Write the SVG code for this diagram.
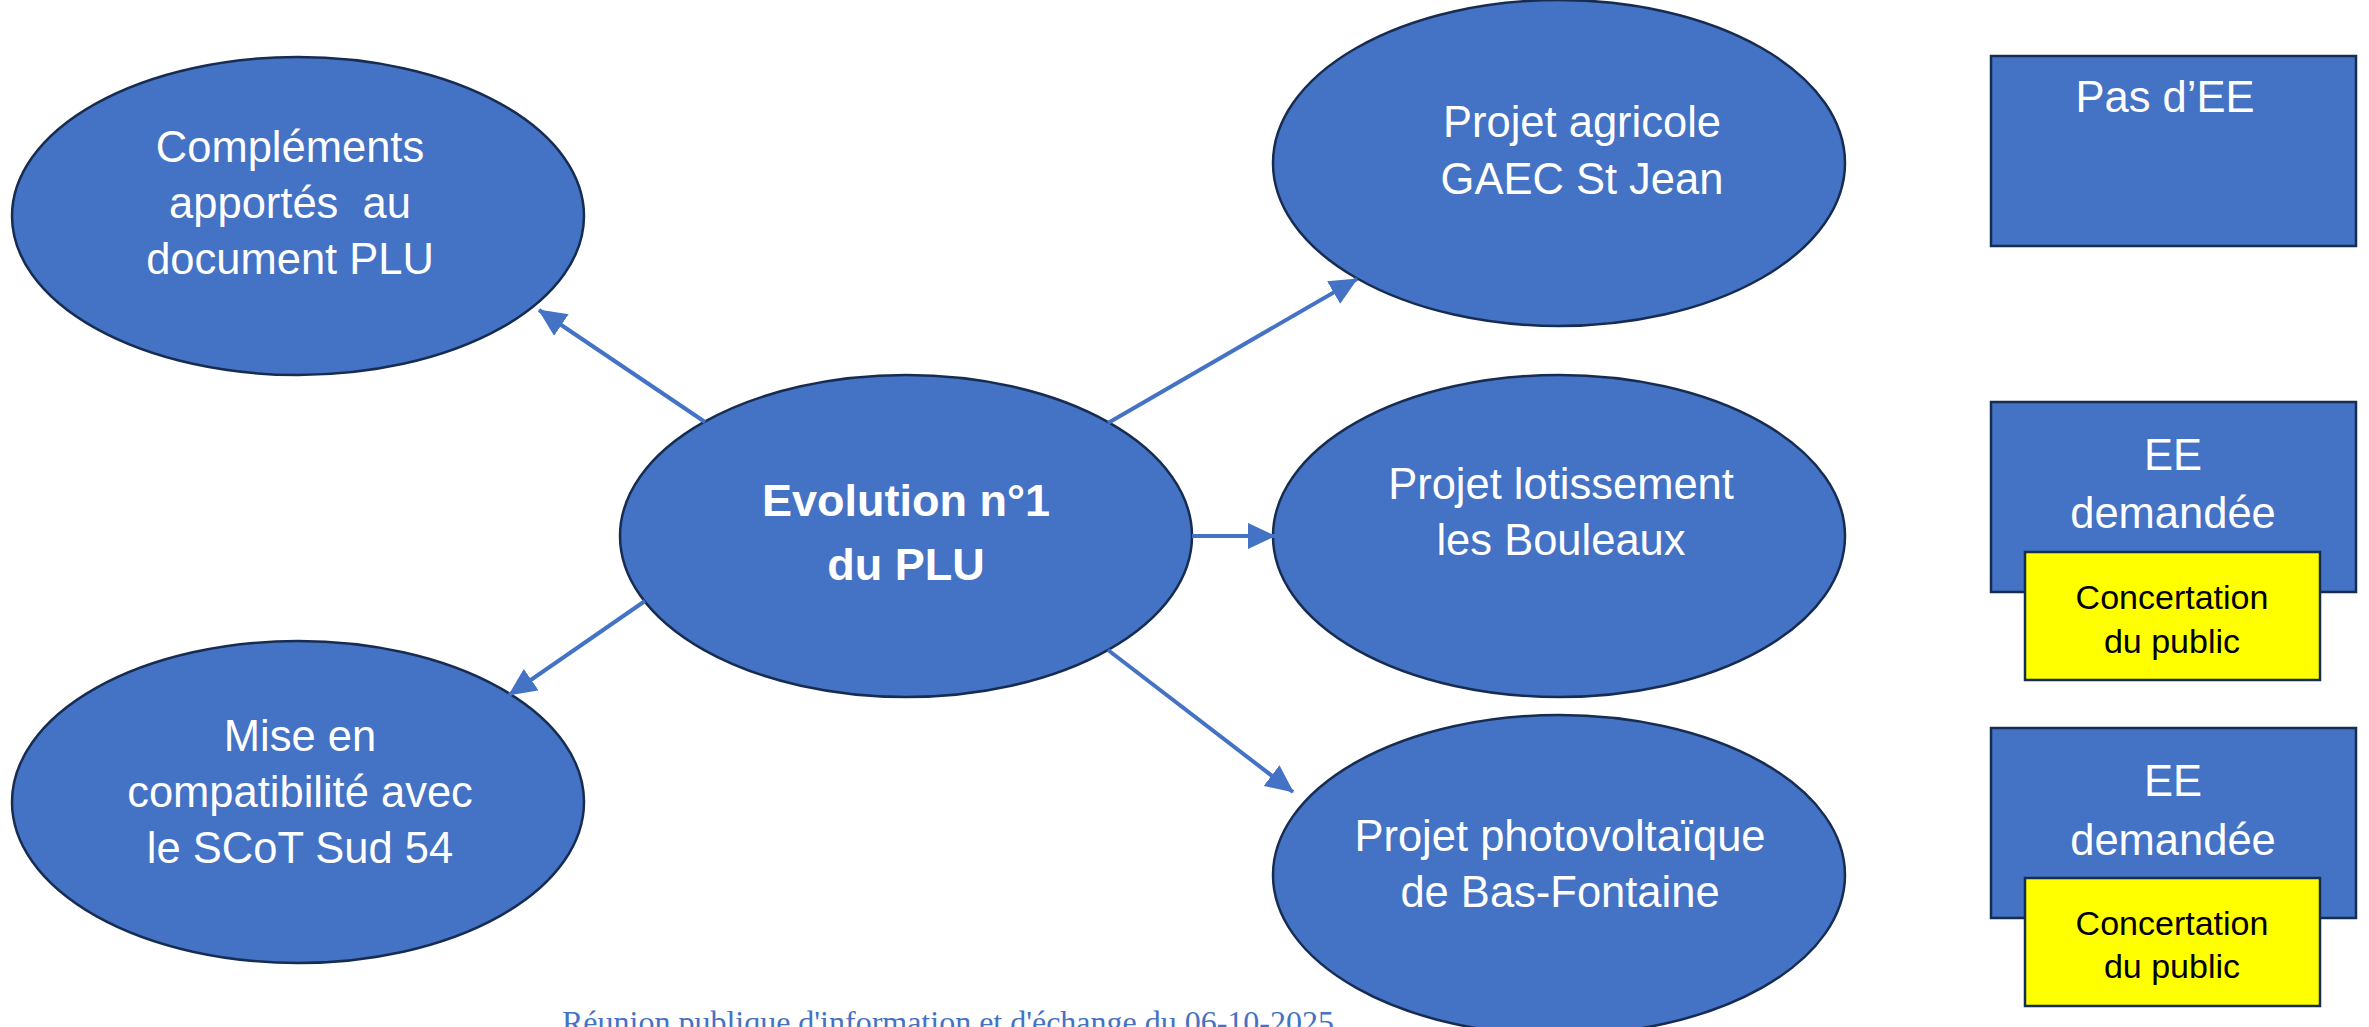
<svg xmlns="http://www.w3.org/2000/svg" width="2369" height="1027" viewBox="0 0 2369 1027">
<style>
.node{fill:#4472C4;stroke:#172C51;stroke-width:2.5}
.note{fill:#FFFF00;stroke:#172C51;stroke-width:2.5}
.t{font-family:"Liberation Sans",Arial,sans-serif;font-size:43.5px;fill:#FFFFFF;text-anchor:middle}
.tb{font-family:"Liberation Sans",Arial,sans-serif;font-size:45px;font-weight:bold;fill:#FFFFFF;text-anchor:middle}
.tn{font-family:"Liberation Sans",Arial,sans-serif;font-size:34px;fill:#000000;text-anchor:middle}
.foot{font-family:"Liberation Serif","Times New Roman",serif;font-size:32px;fill:#4472C4}
.edge{stroke:#4472C4;stroke-width:4;fill:none;marker-end:url(#arrow)}
</style>
<defs>
<marker id="arrow" markerUnits="userSpaceOnUse" markerWidth="28" markerHeight="26" viewBox="0 0 28 26" refX="27" refY="13" orient="auto">
<path d="M0,0 L28,13 L0,26 z" fill="#4472C4"/>
</marker>
</defs>
<rect width="2369" height="1027" fill="#FFFFFF"/>
<g id="node-complements">
<ellipse class="node" cx="298" cy="216" rx="286" ry="159"/>
<text class="t" x="290" y="162">Compléments</text>
<text class="t" x="290" y="218" style="white-space:pre">apportés  au</text>
<text class="t" x="290" y="274">document PLU</text>
</g>
<g id="node-mise">
<ellipse class="node" cx="298" cy="802" rx="286" ry="161"/>
<text class="t" x="300" y="751">Mise en</text>
<text class="t" x="300" y="807">compatibilité avec</text>
<text class="t" x="300" y="863">le SCoT Sud 54</text>
</g>
<g id="node-evolution">
<ellipse class="node" cx="906" cy="536" rx="286" ry="161"/>
<text class="tb" x="906" y="516">Evolution n°1</text>
<text class="tb" x="906" y="580">du PLU</text>
</g>
<g id="node-agricole">
<ellipse class="node" cx="1559" cy="163" rx="286" ry="163"/>
<text class="t" x="1582" y="137">Projet agricole</text>
<text class="t" x="1582" y="194">GAEC St Jean</text>
</g>
<g id="node-lotissement">
<ellipse class="node" cx="1559" cy="536" rx="286" ry="161"/>
<text class="t" x="1561" y="499">Projet lotissement</text>
<text class="t" x="1561" y="555">les Bouleaux</text>
</g>
<g id="node-photovoltaique">
<ellipse class="node" cx="1559" cy="875" rx="286" ry="160"/>
<text class="t" x="1560" y="851">Projet photovoltaïque</text>
<text class="t" x="1560" y="907">de Bas-Fontaine</text>
</g>
<g id="box-pas-ee">
<rect class="node" x="1991" y="56" width="365" height="190"/>
<text class="t" x="2165" y="112">Pas d’EE</text>
</g>
<g id="box-ee-1">
<rect class="node" x="1991" y="402" width="365" height="190"/>
<text class="t" x="2173" y="470">EE</text>
<text class="t" x="2173" y="528">demandée</text>
</g>
<g id="box-concertation-1">
<rect class="note" x="2025" y="552" width="295" height="128"/>
<text class="tn" x="2172" y="609">Concertation</text>
<text class="tn" x="2172" y="653">du public</text>
</g>
<g id="box-ee-2">
<rect class="node" x="1991" y="728" width="365" height="190"/>
<text class="t" x="2173" y="796">EE</text>
<text class="t" x="2173" y="855">demandée</text>
</g>
<g id="box-concertation-2">
<rect class="note" x="2025" y="878" width="295" height="128"/>
<text class="tn" x="2172" y="935">Concertation</text>
<text class="tn" x="2172" y="978">du public</text>
</g>
<g id="connectors">
<line class="edge" x1="705" y1="422" x2="539" y2="310"/>
<line class="edge" x1="645" y1="601" x2="509" y2="695"/>
<line class="edge" x1="1108" y1="423" x2="1357" y2="279"/>
<line class="edge" x1="1192" y1="536" x2="1275" y2="536"/>
<line class="edge" x1="1108" y1="650" x2="1293" y2="792"/>
</g>
<text class="foot" x="562" y="1033" textLength="772">Réunion publique d'information et d'échange du 06-10-2025</text>
</svg>
